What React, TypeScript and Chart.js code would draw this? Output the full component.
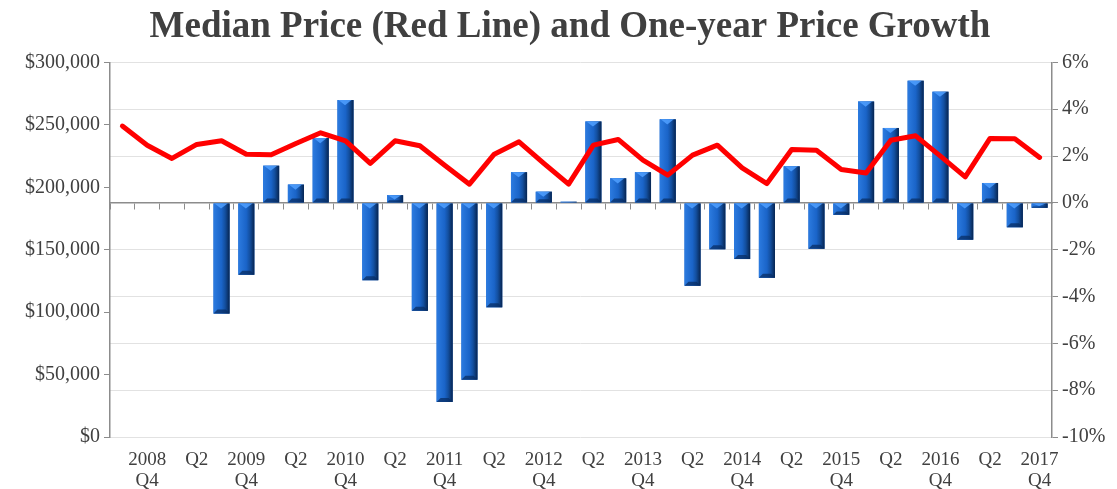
import React, { useEffect, useRef } from 'react';
import { Chart, registerables } from 'chart.js';

Chart.register(...registerables);

const FONT = "'Liberation Serif', 'Times New Roman', serif";
const TEXT = '#404040';
const AXIS = '#8c8c8c';

const categories = [
  '2008 Q3', '2008 Q4',
  '2009 Q1', '2009 Q2', '2009 Q3', '2009 Q4',
  '2010 Q1', '2010 Q2', '2010 Q3', '2010 Q4',
  '2011 Q1', '2011 Q2', '2011 Q3', '2011 Q4',
  '2012 Q1', '2012 Q2', '2012 Q3', '2012 Q4',
  '2013 Q1', '2013 Q2', '2013 Q3', '2013 Q4',
  '2014 Q1', '2014 Q2', '2014 Q3', '2014 Q4',
  '2015 Q1', '2015 Q2', '2015 Q3', '2015 Q4',
  '2016 Q1', '2016 Q2', '2016 Q3', '2016 Q4',
  '2017 Q1', '2017 Q2', '2017 Q3', '2017 Q4',
];

const tickLabels: (string | string[])[] = [
  '', ['2008', 'Q4'],
  '', 'Q2', '', ['2009', 'Q4'],
  '', 'Q2', '', ['2010', 'Q4'],
  '', 'Q2', '', ['2011', 'Q4'],
  '', 'Q2', '', ['2012', 'Q4'],
  '', 'Q2', '', ['2013', 'Q4'],
  '', 'Q2', '', ['2014', 'Q4'],
  '', 'Q2', '', ['2015', 'Q4'],
  '', 'Q2', '', ['2016', 'Q4'],
  '', 'Q2', '', ['2017', 'Q4'],
];

// One-year price growth (%), right axis
const priceGrowth: (number | null)[] = [
  null, null,
  null, null, -4.73, -3.07,
  1.59, 0.78, 2.77, 4.39,
  -3.3, 0.33, -4.61, -8.5,
  -7.55, -4.46, 1.31, 0.48,
  0.05, 3.48, 1.05, 1.31,
  3.57, -3.54, -1.98, -2.4,
  -3.2, 1.56, -1.96, -0.51,
  4.33, 3.2, 5.22, 4.75,
  -1.57, 0.85, -1.04, -0.21,
];

// Median price ($), left axis
const medianPrice: number[] = [
  249000, 233700,
  223100, 234300, 237200, 226500,
  226000, 235100, 243600, 237200,
  219100, 237200, 233200, 217700,
  202500, 226500, 236400, 219100,
  202500, 233700, 238300, 221700,
  209700, 225700, 233700, 215500,
  203000, 230300, 229700, 214300,
  211500, 237700, 241200, 224900,
  208300, 239100, 238800, 223900,
];

const priceMin = 0;
const priceMax = 300000;
const priceStep = 50000;
const growthMin = -10;
const growthMax = 6;
const growthStep = 2;

const titleText = 'Median Price (Red Line) and One-year Price Growth';

const barBevel = {
  id: 'barBevel',
  afterDatasetDraw(chart: any, args: any) {
    const meta = args.meta;
    if (meta.type !== 'bar') return;
    const ctx = chart.ctx as CanvasRenderingContext2D;
    const area = chart.chartArea;
    ctx.save();
    ctx.beginPath();
    ctx.rect(area.left, area.top, area.right - area.left, area.bottom - area.top);
    ctx.clip();
    meta.data.forEach((el: any) => {
      const p = el.getProps(['x', 'y', 'base', 'width'], true);
      if (!Number.isFinite(p.y) || !Number.isFinite(p.base)) return;
      const w = p.width;
      const left = p.x - w / 2;
      const right = p.x + w / 2;
      const top = Math.min(p.y, p.base);
      const bottom = Math.max(p.y, p.base);
      const h = bottom - top;
      if (h <= 0) return;
      const g = ctx.createLinearGradient(left, 0, right, 0);
      g.addColorStop(0, '#2c7be0');
      g.addColorStop(0.5, '#1a64c8');
      g.addColorStop(0.72, '#134f9f');
      g.addColorStop(1, '#062450');
      ctx.fillStyle = g;
      ctx.fillRect(left, top, w, h);
      if (h > 3) {
        // top highlight triangle
        const th = Math.min(w * 0.32, h * 0.6);
        ctx.fillStyle = 'rgba(80,160,255,0.85)';
        ctx.beginPath();
        ctx.moveTo(left + 1, top);
        ctx.lineTo(right - 2, top);
        ctx.lineTo(p.x - 0.5, top + th);
        ctx.closePath();
        ctx.fill();
        // bottom dark bevel
        const b = Math.min(4, h * 0.3);
        ctx.fillStyle = 'rgba(8,45,100,0.75)';
        ctx.beginPath();
        ctx.moveTo(left, bottom);
        ctx.lineTo(right, bottom);
        ctx.lineTo(right - b, bottom - b);
        ctx.lineTo(left + b, bottom - b);
        ctx.closePath();
        ctx.fill();
      }
    });
    ctx.restore();
  },
};

export default function App() {
  const canvasRef = useRef<HTMLCanvasElement | null>(null);

  useEffect(() => {
    document.body.style.margin = '0';
    const canvas = canvasRef.current;
    if (!canvas) return;
    const chart = new Chart(canvas, {
      type: 'bar',
      data: {
        labels: categories,
        datasets: [
          {
            type: 'line',
            label: 'Median Price',
            data: medianPrice,
            yAxisID: 'y',
            xAxisID: 'x',
            borderColor: '#ff0000',
            backgroundColor: '#ff0000',
            borderWidth: 5,
            pointRadius: 0,
            tension: 0,
            borderJoinStyle: 'round',
            borderCapStyle: 'round',
            order: 1,
          } as any,
          {
            type: 'bar',
            label: 'One-year Price Growth',
            data: priceGrowth,
            yAxisID: 'pct',
            xAxisID: 'x',
            backgroundColor: '#1a64c8',
            barPercentage: 0.65,
            categoryPercentage: 1,
            order: 2,
          } as any,
        ],
      },
      options: {
        animation: false,
        responsive: true,
        maintainAspectRatio: false,
        layout: { padding: { left: 23, right: 0, top: 0, bottom: 0 } },
        font: { family: FONT } as any,
        plugins: {
          legend: { display: false },
          tooltip: { enabled: false },
          title: {
            display: true,
            text: titleText,
            color: TEXT,
            font: { family: FONT, size: 37, weight: 'bold' },
            padding: { top: 5, bottom: 13 },
          },
        },
        scales: {
          x: {
            type: 'category',
            position: 'bottom',
            offset: true,
            grid: { display: false, drawTicks: false },
            border: { display: false },
            ticks: {
              autoSkip: false,
              maxRotation: 0,
              minRotation: 0,
              padding: 13,
              color: TEXT,
              font: { family: FONT, size: 19, lineHeight: 1.1 },
              callback: (_v: any, i: number) => tickLabels[i],
            },
            afterFit: (s: any) => {
              s.height = 52;
            },
          },
          x2: {
            type: 'category',
            axis: 'x',
            position: { pct: 0 } as any,
            offset: true,
            grid: {
              display: true,
              drawOnChartArea: false,
              drawTicks: true,
              tickLength: 6,
              color: AXIS,
              offset: true,
            },
            border: { display: true, color: AXIS, width: 1.5 },
            ticks: { display: false },
          } as any,
          y: {
            position: 'left',
            min: priceMin,
            max: priceMax,
            ticks: {
              stepSize: priceStep,
              color: TEXT,
              padding: 4,
              font: { family: FONT, size: 20 },
              callback: (v: any) => '$' + Number(v).toLocaleString('en-US'),
            },
            grid: { drawOnChartArea: false, tickLength: 6, color: AXIS },
            border: { display: true, color: AXIS, width: 1.5 },
            afterFit: (s: any) => {
              s.width = 87;
            },
          },
          pct: {
            position: 'right',
            min: growthMin,
            max: growthMax,
            ticks: {
              stepSize: growthStep,
              color: TEXT,
              padding: 4,
              font: { family: FONT, size: 20 },
              callback: (v: any) => v + '%',
            },
            grid: { color: '#e2e2e2', tickLength: 6, tickColor: AXIS },
            border: { display: true, color: AXIS, width: 1.5 },
            afterFit: (s: any) => {
              s.width = 65;
            },
          },
        },
      } as any,
      plugins: [barBevel],
    });
    return () => chart.destroy();
  }, []);

  return (
    <div style={{ position: 'relative', width: 1117, height: 489 }}>
      <canvas ref={canvasRef} />
    </div>
  );
}
